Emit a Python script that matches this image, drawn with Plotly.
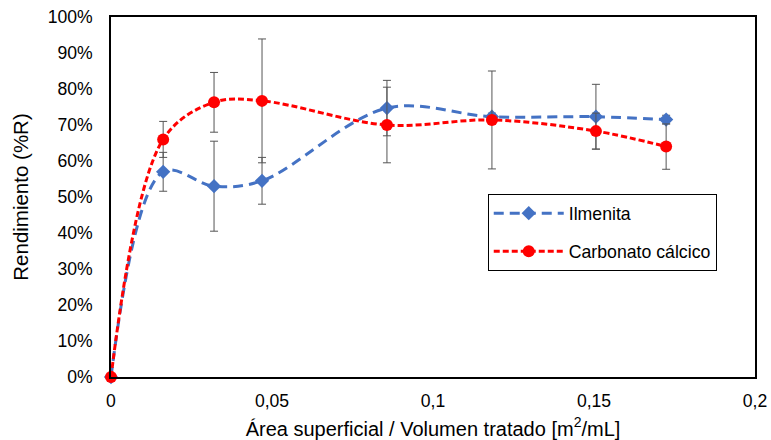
import plotly.graph_objects as go

x_vals = [0, 0.0162, 0.032, 0.0469, 0.0857, 0.1183, 0.1506, 0.1724]
ilmenita = [0, 57.0, 53.0, 54.5, 74.7, 72.3, 72.3, 71.5]
ilmenita_err = [0, 5.4, 12.5, 6.5, 7.7, 1.0, 9.0, 1.2]
carbonato = [0, 66.0, 76.3, 76.7, 70.0, 71.4, 68.3, 64.0]
carbonato_err = [0, 5.0, 8.3, 17.2, 10.5, 13.6, 5.0, 6.3]

y_ticks = list(range(0, 101, 10))
y_ticktext = [f"{v}%" for v in y_ticks]
x_ticks = [0, 0.05, 0.1, 0.15, 0.2]
x_ticktext = ["0", "0,05", "0,1", "0,15", "0,2"]

font_family = "Liberation Sans, Arial, sans-serif"

fig = go.Figure()
fig.add_trace(go.Scatter(
    x=x_vals, y=ilmenita, name="Ilmenita", legendgroup="a",
    mode="lines+markers",
    line=dict(color="#4472C4", width=3, dash="10px,6px", shape="spline", smoothing=1),
    marker=dict(symbol="diamond", size=11, color="#4472C4"),
    error_y=dict(type="data", array=ilmenita_err, color="#555555", thickness=1, width=4),
))
fig.add_trace(go.Scatter(
    x=x_vals, y=carbonato, name="Carbonato cálcico", legendgroup="b",
    mode="lines+markers",
    line=dict(color="#FF0000", width=3, dash="6px,3px", shape="spline", smoothing=1),
    marker=dict(symbol="circle", size=12, color="#FF0000"),
    error_y=dict(type="data", array=carbonato_err, color="#555555", thickness=1, width=4),
))

fig.update_layout(
    width=771, height=440,
    margin=dict(l=111, r=16, t=17, b=63),
    paper_bgcolor="white", plot_bgcolor="white",
    font=dict(family=font_family, size=17.6, color="#000000"),
    showlegend=True,
    legend=dict(
        x=0.585, y=0.508, xanchor="left", yanchor="top",
        bordercolor="black", borderwidth=1, bgcolor="white",
        font=dict(size=17.7), tracegroupgap=12,
        itemwidth=70,
    ),
    xaxis=dict(
        range=[0, 0.2], tickvals=x_ticks, ticktext=x_ticktext,
        showgrid=False, zeroline=False, showline=True, linecolor="black",
        linewidth=1.5, mirror=True, ticks="", ticklabelstandoff=7,
        automargin=False,
        title=dict(text="Área superficial / Volumen tratado [m<sup>2</sup>/mL]",
                   font=dict(size=20), standoff=12),
    ),
    yaxis=dict(
        range=[0, 100], tickvals=y_ticks, ticktext=y_ticktext,
        showgrid=False, zeroline=False, showline=True, linecolor="black",
        linewidth=1.5, mirror=True, ticks="", ticklabelstandoff=13,
        automargin=False,
        title=dict(text="Rendimiento (%R)", font=dict(size=20.5), standoff=14),
    ),
)
for tr in fig.data:
    tr.cliponaxis = False

fig.write_html("out.html")
